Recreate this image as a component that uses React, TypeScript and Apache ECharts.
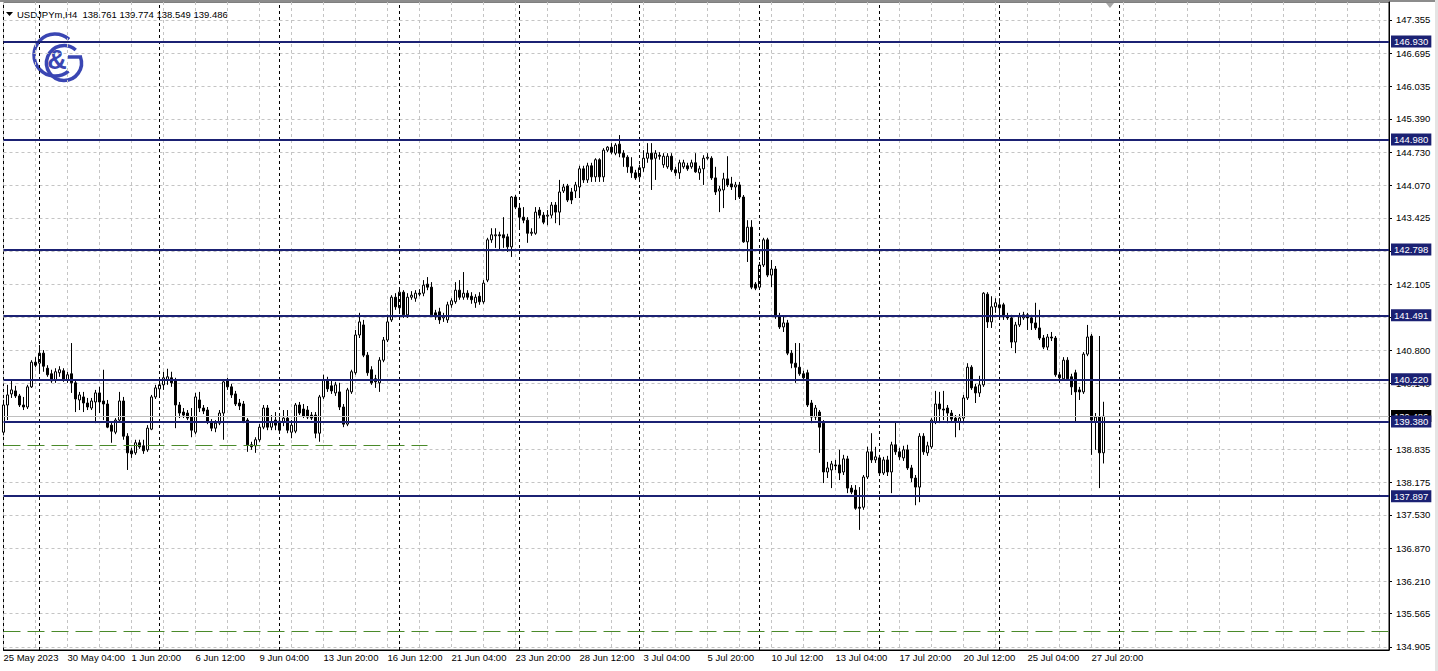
import React, { useEffect, useRef } from "react";
import * as echarts from "echarts";

// [open, high, low, close] of each H4 bar
const candles: [number, number, number, number][] = [
  [139.17, 139.81, 139.11, 139.71], [139.71, 140.11, 139.41, 139.91], [139.93, 140.21, 139.85, 140.01], [139.99, 140.09, 139.85, 139.89],
  [139.89, 139.93, 139.67, 139.71], [139.71, 139.87, 139.61, 139.67], [139.67, 140.11, 139.63, 140.07], [140.07, 140.60, 140.05, 140.56],
  [140.56, 140.66, 140.46, 140.50], [140.54, 140.90, 140.37, 140.74], [140.74, 140.80, 140.37, 140.48], [140.44, 140.50, 140.27, 140.31],
  [140.33, 140.41, 140.15, 140.19], [140.21, 140.44, 140.15, 140.37], [140.35, 140.48, 140.27, 140.41], [140.39, 140.44, 140.17, 140.21],
  [140.21, 140.37, 140.15, 140.31], [140.33, 140.94, 139.95, 140.15], [140.15, 140.21, 139.57, 139.83], [139.81, 139.97, 139.61, 139.91],
  [139.87, 139.97, 139.57, 139.75], [139.75, 139.85, 139.61, 139.67], [139.65, 139.85, 139.61, 139.79], [139.77, 140.01, 139.35, 139.95],
  [139.95, 140.07, 139.55, 139.77], [139.79, 140.41, 139.41, 139.73], [139.73, 139.81, 139.25, 139.27], [139.31, 139.37, 138.96, 139.19],
  [139.17, 139.45, 139.13, 139.41], [139.41, 139.97, 139.37, 139.79], [139.79, 139.87, 139.02, 139.09], [139.09, 139.15, 138.42, 138.76],
  [138.80, 138.86, 138.66, 138.74], [138.76, 139.02, 138.72, 138.96], [138.96, 139.02, 138.84, 138.88], [138.90, 139.02, 138.74, 138.80],
  [138.82, 139.31, 138.78, 139.25], [139.23, 139.91, 139.21, 139.87], [139.87, 140.11, 139.83, 140.05], [140.03, 140.21, 139.89, 140.11],
  [140.11, 140.37, 140.01, 140.25], [140.21, 140.43, 140.11, 140.27], [140.25, 140.37, 140.07, 140.15], [140.19, 140.25, 139.25, 139.71],
  [139.71, 139.77, 139.45, 139.55], [139.57, 139.65, 139.45, 139.51], [139.55, 139.61, 139.41, 139.45], [139.47, 139.65, 139.07, 139.21],
  [139.17, 139.95, 139.13, 139.87], [139.81, 139.97, 139.57, 139.65], [139.65, 139.71, 139.53, 139.59], [139.61, 139.67, 139.33, 139.37],
  [139.37, 139.43, 139.19, 139.25], [139.25, 139.41, 139.17, 139.35], [139.35, 139.61, 139.31, 139.55], [139.55, 140.21, 139.02, 140.17],
  [140.19, 140.25, 140.01, 140.07], [140.07, 140.13, 139.85, 139.91], [139.93, 139.99, 139.69, 139.73], [139.75, 139.83, 139.61, 139.69],
  [139.73, 139.79, 139.35, 139.39], [139.41, 139.45, 138.78, 138.92], [138.92, 138.98, 138.82, 138.88], [138.90, 139.07, 138.76, 139.02],
  [139.02, 139.33, 138.98, 139.27], [139.27, 139.71, 139.23, 139.65], [139.65, 139.71, 139.21, 139.27], [139.27, 139.51, 139.21, 139.37],
  [139.41, 139.57, 139.21, 139.31], [139.39, 139.51, 139.15, 139.21], [139.37, 139.61, 139.29, 139.45], [139.45, 139.61, 139.15, 139.21],
  [139.17, 139.41, 139.05, 139.31], [139.19, 139.75, 139.15, 139.71], [139.71, 139.77, 139.51, 139.55], [139.63, 139.73, 139.45, 139.49],
  [139.61, 139.69, 139.43, 139.47], [139.51, 139.57, 139.41, 139.45], [139.51, 139.57, 139.05, 139.15], [139.15, 139.91, 138.98, 139.87],
  [139.87, 140.31, 139.83, 140.21], [140.19, 140.27, 139.97, 140.03], [140.09, 140.21, 139.93, 139.99], [139.95, 140.17, 139.89, 140.11],
  [139.97, 140.15, 139.61, 139.67], [139.67, 139.73, 139.27, 139.33], [139.33, 140.05, 139.29, 140.01], [139.97, 140.41, 139.93, 140.37],
  [140.35, 141.20, 140.31, 141.10], [141.10, 141.54, 141.04, 141.36], [141.30, 141.40, 140.66, 140.70], [140.70, 140.76, 140.29, 140.35],
  [140.41, 140.48, 140.11, 140.15], [140.23, 140.31, 140.05, 140.17], [140.15, 140.66, 139.97, 140.60], [140.60, 141.06, 140.56, 141.00],
  [141.00, 141.50, 140.96, 141.36], [141.40, 141.89, 141.36, 141.85], [141.85, 141.93, 141.60, 141.66], [141.64, 142.01, 141.56, 141.95],
  [141.95, 141.99, 141.44, 141.50], [141.50, 141.93, 141.44, 141.85], [141.85, 141.97, 141.80, 141.89], [141.83, 141.99, 141.76, 141.93],
  [141.93, 142.01, 141.87, 141.91], [141.93, 142.19, 141.87, 142.09], [142.11, 142.25, 141.99, 142.05], [142.05, 142.15, 141.46, 141.50],
  [141.54, 141.60, 141.40, 141.46], [141.56, 141.64, 141.32, 141.40], [141.44, 141.54, 141.36, 141.48], [141.40, 141.76, 141.34, 141.70],
  [141.70, 141.83, 141.64, 141.78], [141.76, 142.15, 141.72, 141.99], [141.99, 142.19, 141.80, 141.85], [141.85, 142.35, 141.80, 141.93],
  [141.93, 141.99, 141.80, 141.85], [141.87, 141.95, 141.72, 141.80], [141.74, 141.91, 141.64, 141.85], [141.87, 141.95, 141.70, 141.76],
  [141.76, 142.19, 141.72, 142.13], [142.19, 143.03, 142.15, 142.99], [142.99, 143.22, 142.93, 143.09], [143.07, 143.22, 142.83, 143.09],
  [143.09, 143.15, 142.79, 143.07], [143.09, 143.44, 142.83, 143.03], [143.05, 143.11, 142.75, 142.85], [142.85, 143.86, 142.65, 143.84],
  [143.84, 143.88, 143.60, 143.64], [143.62, 143.72, 143.19, 143.44], [143.44, 143.64, 143.32, 143.38], [143.38, 143.44, 142.93, 143.12],
  [143.12, 143.22, 143.07, 143.14], [143.12, 143.64, 143.09, 143.54], [143.58, 143.64, 143.42, 143.48], [143.48, 143.54, 143.30, 143.34],
  [143.46, 143.58, 143.28, 143.48], [143.48, 143.74, 143.42, 143.68], [143.68, 143.74, 143.32, 143.54], [143.54, 144.18, 143.28, 143.94],
  [143.96, 144.10, 143.92, 144.04], [144.06, 144.10, 143.74, 143.78], [143.94, 144.02, 143.70, 143.78], [143.96, 144.14, 143.82, 144.08],
  [144.04, 144.46, 143.82, 144.40], [144.40, 144.46, 144.12, 144.18], [144.18, 144.52, 144.12, 144.46], [144.46, 144.52, 144.14, 144.24],
  [144.24, 144.61, 144.14, 144.58], [144.58, 144.61, 144.14, 144.24], [144.24, 144.81, 144.14, 144.77], [144.77, 144.85, 144.73, 144.83],
  [144.83, 144.91, 144.69, 144.73], [144.71, 144.91, 144.67, 144.87], [144.89, 145.07, 144.63, 144.71], [144.71, 144.77, 144.44, 144.63],
  [144.63, 144.67, 144.32, 144.44], [144.44, 144.63, 144.22, 144.32], [144.32, 144.38, 144.18, 144.22], [144.24, 144.48, 144.18, 144.42],
  [144.42, 144.77, 144.34, 144.61], [144.61, 144.91, 144.52, 144.71], [144.71, 144.91, 143.98, 144.59], [144.61, 144.77, 144.18, 144.71],
  [144.67, 144.73, 144.58, 144.65], [144.48, 144.71, 144.42, 144.65], [144.44, 144.71, 144.40, 144.65], [144.65, 144.71, 144.34, 144.38],
  [144.38, 144.44, 144.26, 144.32], [144.32, 144.58, 144.20, 144.52], [144.44, 144.58, 144.40, 144.52], [144.46, 144.52, 144.36, 144.40],
  [144.44, 144.58, 144.40, 144.52], [144.52, 144.71, 144.32, 144.34], [144.32, 144.46, 144.18, 144.40], [144.40, 144.67, 144.08, 144.61],
  [144.61, 144.71, 144.58, 144.63], [144.61, 144.65, 144.18, 144.22], [144.22, 144.44, 143.88, 143.94], [143.96, 144.06, 143.54, 144.00],
  [143.98, 144.32, 143.62, 144.20], [144.20, 144.65, 144.04, 144.08], [144.10, 144.24, 143.98, 144.04], [144.04, 144.14, 143.78, 144.08],
  [144.08, 144.14, 143.80, 143.84], [143.84, 143.88, 142.93, 142.95], [142.95, 143.38, 142.55, 143.24], [143.24, 143.38, 142.01, 142.05],
  [142.11, 142.15, 141.99, 142.03], [142.05, 142.55, 142.01, 142.49], [142.49, 143.03, 142.45, 142.99], [142.99, 143.03, 142.25, 142.29],
  [142.29, 142.59, 142.05, 142.41], [142.41, 142.47, 141.42, 141.46], [141.48, 141.54, 141.22, 141.26], [141.26, 141.46, 141.16, 141.34],
  [141.34, 141.40, 140.70, 140.74], [140.74, 140.80, 140.44, 140.54], [140.54, 140.94, 140.15, 140.46], [140.46, 140.94, 140.29, 140.33],
  [140.33, 140.39, 140.21, 140.25], [140.35, 140.41, 139.67, 139.71], [139.75, 139.81, 139.35, 139.47], [139.47, 139.71, 139.41, 139.65],
  [139.57, 139.61, 138.76, 139.27], [139.35, 139.41, 138.16, 138.38], [138.38, 138.58, 138.26, 138.46], [138.42, 138.60, 138.06, 138.54],
  [138.52, 138.62, 138.42, 138.50], [138.52, 138.82, 138.22, 138.36], [138.38, 138.72, 138.32, 138.64], [138.64, 138.70, 137.96, 138.06],
  [138.06, 138.12, 137.94, 137.98], [138.02, 138.12, 137.63, 137.66], [137.68, 138.08, 137.23, 137.66], [137.68, 138.32, 137.63, 138.28],
  [138.28, 138.88, 138.24, 138.78], [138.78, 139.15, 138.56, 138.62], [138.62, 138.88, 138.56, 138.68], [138.66, 138.72, 138.30, 138.36],
  [138.36, 138.68, 138.32, 138.62], [138.62, 138.70, 138.30, 138.38], [138.38, 138.98, 137.96, 138.92], [138.92, 139.37, 138.72, 138.78],
  [138.78, 138.86, 138.62, 138.68], [138.66, 138.90, 138.60, 138.82], [138.82, 138.92, 138.42, 138.46], [138.46, 138.52, 138.18, 138.26],
  [138.26, 138.32, 137.72, 138.08], [138.08, 139.15, 137.78, 139.09], [139.09, 139.15, 138.72, 138.78], [138.76, 138.98, 138.70, 138.90],
  [138.88, 139.45, 138.84, 139.41], [139.37, 139.99, 139.33, 139.73], [139.73, 139.97, 139.35, 139.63], [139.63, 139.99, 139.41, 139.61],
  [139.65, 139.71, 139.35, 139.55], [139.55, 139.61, 139.39, 139.43], [139.45, 139.51, 139.07, 139.37], [139.37, 139.53, 139.21, 139.45],
  [139.45, 139.91, 139.35, 139.85], [139.85, 140.54, 139.81, 140.46], [140.46, 140.50, 140.01, 140.05], [140.07, 140.13, 139.75, 139.95],
  [139.95, 140.29, 139.87, 140.11], [140.11, 141.95, 140.07, 141.93], [141.91, 141.95, 141.24, 141.36], [141.36, 141.87, 141.24, 141.66],
  [141.66, 141.83, 141.54, 141.74], [141.64, 141.83, 141.46, 141.70], [141.70, 141.74, 141.40, 141.46], [141.48, 141.54, 141.40, 141.44],
  [141.44, 141.50, 140.84, 140.96], [140.96, 141.36, 140.74, 141.30], [141.30, 141.54, 141.26, 141.46], [141.44, 141.56, 141.40, 141.50],
  [141.50, 141.54, 141.20, 141.44], [141.44, 141.50, 141.20, 141.34], [141.34, 141.74, 141.20, 141.24], [141.24, 141.60, 141.00, 141.04],
  [141.04, 141.10, 140.82, 140.86], [140.86, 141.12, 140.80, 141.06], [141.06, 141.16, 140.98, 141.04], [141.04, 141.08, 140.27, 140.31],
  [140.31, 140.37, 140.15, 140.25], [140.23, 140.66, 140.19, 140.60], [140.60, 140.66, 140.19, 140.23], [140.27, 140.33, 139.91, 140.07],
  [140.35, 140.41, 139.37, 139.97], [140.01, 140.07, 139.81, 139.97], [139.97, 140.76, 139.93, 140.72], [140.72, 141.30, 140.68, 141.06],
  [141.08, 141.12, 138.72, 139.41], [139.37, 139.55, 138.82, 139.47], [139.47, 141.08, 138.06, 138.76], [138.761, 139.774, 138.549, 139.486],
];

// bottom time labels, one every 16 bars
const timeLabels = [
  "25 May 2023", "30 May 04:00", "1 Jun 20:00", "6 Jun 12:00", "9 Jun 04:00", "13 Jun 20:00",
  "16 Jun 12:00", "21 Jun 04:00", "23 Jun 20:00", "28 Jun 12:00", "3 Jul 04:00", "5 Jul 20:00",
  "10 Jul 12:00", "13 Jul 04:00", "17 Jul 20:00", "20 Jul 12:00", "25 Jul 04:00", "27 Jul 20:00",
];
const labelEvery = 16;

// right price scale tick labels
const priceTicks = [
  134.905, 135.565, 136.21, 136.87, 137.53, 138.175, 138.835, 139.48, 140.14, 140.8,
  141.445, 142.105, 142.765, 143.425, 144.07, 144.73, 145.39, 146.035, 146.695, 147.355,
];

// horizontal support / resistance levels (navy)
const levelPrices = [146.93, 144.98, 142.798, 141.491, 140.22, 139.38, 137.897];
// green dashed levels
const greenLevelFull = 135.22;
const greenLevelShort = 138.92;
const greenShortFromBar = 0;
const greenShortToBar = 106;
// bar indices where a new week starts (period separators)
const weekStarts = [9, 39, 69, 99, 129, 159, 189, 219, 249, 279];

const symbolTitle = "USDJPYm,H4";

const FONT = "'Liberation Sans', Arial, sans-serif";
const NAVY = "#1b2173";
const GREEN = "#4a8a2a";
const GRID_GRAY = "#c4c4c4";
const LOGO = "#3a46b3";

export default function App() {
  const ref = useRef<HTMLDivElement>(null);

  useEffect(() => {
    const el = ref.current;
    if (!el) return;
    const chart = echarts.init(el, undefined, { renderer: "svg" });
    const last = candles[candles.length - 1];
    const lastClose = last[3];
    const header = `${symbolTitle}  ${last.map((v) => v.toFixed(3)).join(" ")}`;

    const levelLabel = (bg: string) => ({
      show: true,
      position: "end" as const,
      distance: 2,
      backgroundColor: bg,
      color: "#ffffff",
      fontFamily: FONT,
      fontSize: 9.5,
      lineHeight: 11,
      padding: [1, 3, 0, 3],
    });

    const option: any = {
      animation: false,
      backgroundColor: "#ffffff",
      grid: {
        left: 3.5,
        top: 2,
        right: 49,
        bottom: 21,
        show: true,
        borderColor: "#000000",
        borderWidth: 1,
        backgroundColor: "transparent",
        containLabel: false,
        outerBoundsMode: "none",
      },
      xAxis: {
        type: "value",
        min: 0,
        max: 346.375,
        interval: 8,
        axisLine: { show: true, onZero: false, lineStyle: { color: "#000000", width: 1 } },
        axisTick: { show: false },
        axisLabel: {
          show: true,
          align: "left",
          margin: 2,
          color: "#000000",
          fontFamily: FONT,
          fontSize: 9.5,
          showMinLabel: true,
          showMaxLabel: true,
          formatter: (v: number) => {
            const k = Math.round(v);
            if (Math.abs(v - k) > 1e-6 || k % labelEvery !== 0) return "";
            return timeLabels[k / labelEvery] ?? "";
          },
        },
        splitLine: { show: true, lineStyle: { color: GRID_GRAY, type: [3, 3], width: 1 } },
      },
      yAxis: {
        type: "value",
        position: "right",
        min: 134.845,
        max: 147.7124,
        scale: true,
        axisLine: { show: true, onZero: false, lineStyle: { color: "#000000", width: 1 } },
        axisTick: { show: true, length: 3, customValues: priceTicks, lineStyle: { color: "#000000" } },
        axisLabel: {
          show: true,
          customValues: priceTicks,
          margin: 7,
          color: "#000000",
          fontFamily: FONT,
          fontSize: 9.5,
          formatter: (v: number) => v.toFixed(3),
        },
        splitLine: { show: true, lineStyle: { color: GRID_GRAY, type: [3, 3], width: 1 } },
      },
      graphic: [
        {
          type: "rect",
          shape: { x: 0, y: 0, width: 1438, height: 2 },
          style: { fill: "#8c8c8c" },
          silent: true,
        },
        {
          type: "rect",
          shape: { x: 1435, y: 0, width: 3, height: 671 },
          style: { fill: "#e4e4e4" },
          silent: true,
        },
        {
          type: "polygon",
          shape: { points: [[6, 12], [13, 12], [9.5, 16]] },
          style: { fill: "#000000" },
          silent: true,
        },
        {
          type: "text",
          x: 17,
          y: 14,
          style: {
            text: header,
            fill: "#000000",
            fontFamily: FONT,
            fontSize: 9.5,
            verticalAlign: "middle",
            align: "left",
          },
          silent: true,
        },
        {
          type: "polygon",
          shape: { points: [[1106, 3], [1114, 3], [1110, 8]] },
          style: { fill: "#a8a8a8" },
          silent: true,
        },
        {
          type: "group",
          silent: true,
          children: [
            {
              type: "arc",
              shape: { cx: 55, cy: 55, r: 21, startAngle: (50 * Math.PI) / 180, endAngle: (312 * Math.PI) / 180, clockwise: true },
              style: { stroke: LOGO, lineWidth: 3.5, fill: null },
            },
            {
              type: "arc",
              shape: { cx: 64, cy: 63, r: 17.5, startAngle: (-20 * Math.PI) / 180, endAngle: (312 * Math.PI) / 180, clockwise: true },
              style: { stroke: LOGO, lineWidth: 3.5, fill: null },
            },
            {
              type: "line",
              shape: { x1: 68, y1: 57, x2: 82, y2: 57 },
              style: { stroke: LOGO, lineWidth: 3.5 },
            },
            {
              type: "text",
              x: 57,
              y: 60,
              style: {
                text: "&",
                fill: LOGO,
                fontFamily: FONT,
                fontSize: 27,
                fontWeight: "bold",
                align: "center",
                verticalAlign: "middle",
              },
            },
          ],
        },
      ],
      series: [
        {
          name: "separators",
          type: "line",
          data: [],
          silent: true,
          z: 1,
          markLine: {
            silent: true,
            animation: false,
            symbol: ["none", "none"],
            label: { show: false },
            emphasis: { disabled: true },
            data: weekStarts.map((w) => ({
              xAxis: w,
              lineStyle: { color: "#000000", type: [3, 3], width: 1 },
            })),
          },
        },
        {
          name: "USDJPYm",
          type: "candlestick",
          silent: true,
          z: 3,
          barWidth: 2,
          data: candles.map((c, i) => [i, c[0], c[3], c[2], c[1]]),
          itemStyle: {
            color: "#ffffff",
            color0: "#000000",
            borderColor: "#000000",
            borderColor0: "#000000",
            borderColorDoji: "#000000",
            borderWidth: 1,
          },
        },
        {
          name: "levels",
          type: "line",
          data: [],
          silent: true,
          z: 5,
          markLine: {
            silent: true,
            animation: false,
            symbol: ["none", "none"],
            emphasis: { disabled: true },
            data: [
              {
                yAxis: lastClose,
                lineStyle: { color: "#c0c0c0", width: 1, type: "solid" },
                label: { ...levelLabel("#000000"), formatter: lastClose.toFixed(3) },
              },
              {
                yAxis: greenLevelFull,
                lineStyle: { color: GREEN, width: 1, type: [17, 7] },
                label: { show: false },
              },
              [
                {
                  coord: [greenShortFromBar, greenLevelShort],
                  lineStyle: { color: GREEN, width: 1, type: [17, 7] },
                  label: { show: false },
                },
                { coord: [greenShortToBar, greenLevelShort] },
              ],
              ...levelPrices.map((p) => ({
                yAxis: p,
                lineStyle: { color: NAVY, width: 2, type: "solid" },
                label: { ...levelLabel(NAVY), formatter: p.toFixed(3) },
              })),
            ],
          },
        },
      ],
    };

    chart.setOption(option);
    return () => {
      chart.dispose();
    };
  }, []);

  return (
    <div
      ref={ref}
      style={{ position: "fixed", left: 0, top: 0, width: 1438, height: 671, background: "#ffffff" }}
    />
  );
}
